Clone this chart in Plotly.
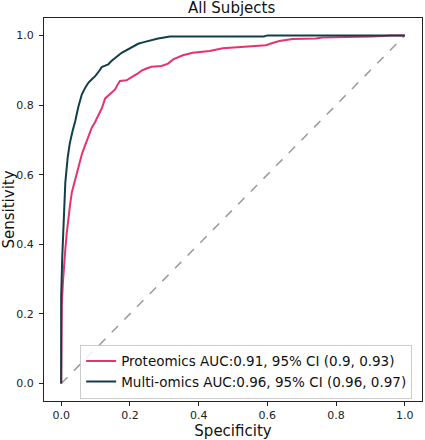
import plotly.graph_objects as go

# Multi-omics ROC curve
multi_x = [0, 0, 0.003, 0.007, 0.012, 0.019, 0.025, 0.033, 0.041, 0.05, 0.06, 0.07, 0.079, 0.09,
           0.099, 0.11, 0.118, 0.128, 0.137, 0.147, 0.157, 0.167, 0.176, 0.188, 0.2, 0.212, 0.224,
           0.238, 0.253, 0.268, 0.282, 0.3, 0.316, 0.33, 0.45, 0.59, 0.6, 1.0]
multi_y = [0, 0.25, 0.36, 0.45, 0.577, 0.65, 0.69, 0.725, 0.754, 0.795, 0.83, 0.85, 0.864, 0.875,
           0.883, 0.897, 0.909, 0.913, 0.917, 0.927, 0.936, 0.943, 0.95, 0.957, 0.964, 0.97, 0.976,
           0.98, 0.984, 0.988, 0.991, 0.994, 0.997, 0.997, 0.997, 0.997, 1.0, 1.0]

# Proteomics ROC curve
prot_x = [0, 0, 0.002, 0.005, 0.008, 0.012, 0.016, 0.021, 0.026, 0.031, 0.041, 0.048, 0.055, 0.06,
          0.065, 0.074, 0.082, 0.089, 0.098, 0.108, 0.118, 0.128, 0.14, 0.157, 0.165, 0.171, 0.19,
          0.2, 0.21, 0.222, 0.234, 0.248, 0.263, 0.292, 0.311, 0.326, 0.345, 0.354, 0.383, 0.432,
          0.47, 0.538, 0.596, 0.615, 0.635, 0.673, 0.741, 0.76, 0.886, 0.905, 0.963, 1.0]
prot_y = [0, 0.18, 0.23, 0.29, 0.34, 0.385, 0.43, 0.48, 0.515, 0.549, 0.586, 0.615, 0.644, 0.658,
          0.672, 0.696, 0.72, 0.735, 0.75, 0.768, 0.79, 0.819, 0.83, 0.845, 0.86, 0.869, 0.871,
          0.878, 0.883, 0.89, 0.899, 0.905, 0.91, 0.912, 0.919, 0.931, 0.939, 0.943, 0.95, 0.955,
          0.963, 0.968, 0.972, 0.978, 0.984, 0.99, 0.991, 0.994, 0.996, 0.997, 1.0, 1.0]

diag = [0, 1]
tick_vals = [0.0, 0.2, 0.4, 0.6, 0.8, 1.0]
tick_text = ["0.0", "0.2", "0.4", "0.6", "0.8", "1.0"]

prot_label = "Proteomics AUC:0.91, 95% CI (0.9, 0.93)"
multi_label = "Multi-omics AUC:0.96, 95% CI (0.96, 0.97)"

FONT = "DejaVu Sans"

fig = go.Figure()
fig.add_trace(go.Scatter(x=diag, y=diag, mode="lines", showlegend=False,
                         line=dict(color="#9a9a9a", width=1.5, dash="dash")))
fig.add_trace(go.Scatter(x=prot_x, y=prot_y, mode="lines", name=prot_label,
                         line=dict(color="#E5336B", width=2)))
fig.add_trace(go.Scatter(x=multi_x, y=multi_y, mode="lines", name=multi_label,
                         line=dict(color="#113E4C", width=2)))

axis_common = dict(range=[-0.05, 1.05], tickvals=tick_vals, ticktext=tick_text,
                   showgrid=False, zeroline=False, showline=True, mirror=True,
                   automargin=False,
                   linecolor="#222222", linewidth=1, ticks="outside", ticklen=4,
                   tickcolor="#222222", tickfont=dict(family=FONT, size=11, color="#222222"))

fig.update_layout(
    width=425, height=440,
    margin=dict(l=44, r=3, t=18, b=39),
    paper_bgcolor="white", plot_bgcolor="white",
    font=dict(family=FONT, color="#111111"),
    title=dict(text="All Subjects", x=0.545, xanchor="center", y=0.982, yanchor="middle",
               font=dict(family=FONT, size=15, color="#111111")),
    xaxis=dict(**axis_common, title=dict(text="Specificity", standoff=4,
                                        font=dict(family=FONT, size=15, color="#111111"))),
    yaxis=dict(**axis_common, ticklabelstandoff=3,
               title=dict(text="Sensitivity", standoff=6,
                          font=dict(family=FONT, size=15, color="#111111"))),
    legend=dict(x=0.974, y=0.006, xanchor="right", yanchor="bottom",
                bgcolor="rgba(255,255,255,0.85)", bordercolor="#cccccc", borderwidth=1,
                font=dict(family=FONT, size=13.5, color="#111111"), tracegroupgap=0),
)

fig.write_html("out.html", config={"displayModeBar": False},
               post_script="document.body.style.margin='0px';document.body.style.overflow='hidden';")
